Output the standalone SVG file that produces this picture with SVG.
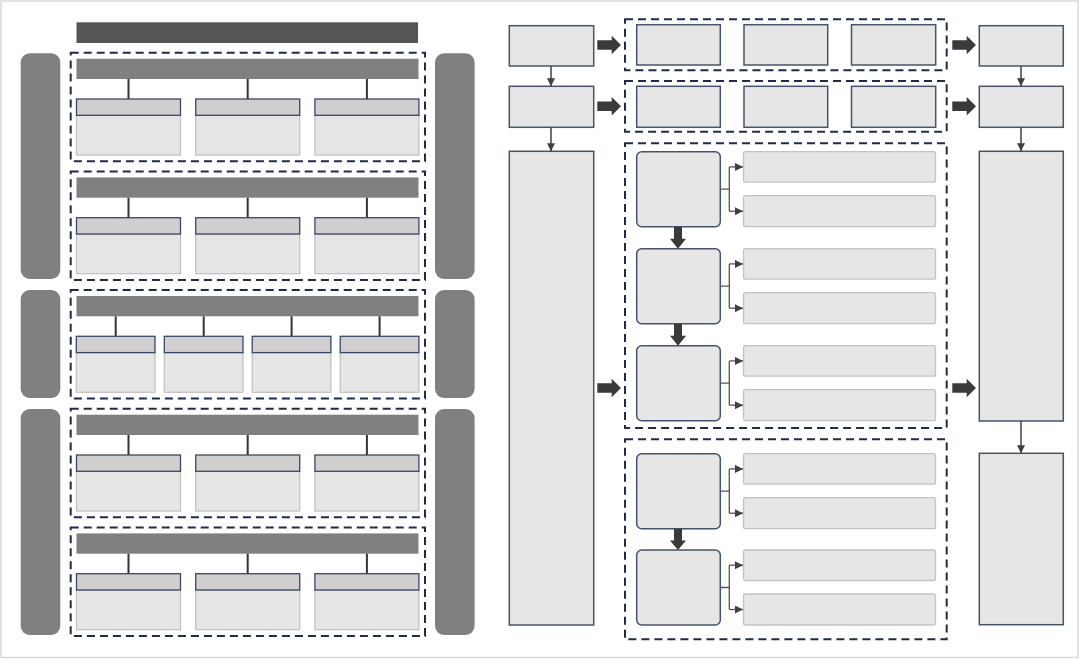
<svg xmlns="http://www.w3.org/2000/svg" width="1080" height="659" viewBox="0 0 1080 659">
<style>
.frame{fill:#ffffff;stroke:#d9d9d9;stroke-width:1.5}
.topbar{fill:#555555}
.hdr{fill:#808080}
.side{fill:#808080}
.dash{fill:none;stroke:#1f2b4d;stroke-width:2;stroke-dasharray:8,5}
.subhead{fill:#d0cece;stroke:#3b4766;stroke-width:1.3}
.body{fill:#e6e6e6;stroke:#bfbfbf;stroke-width:1.2}
.vline{stroke:#333333;stroke-width:2}
.box{fill:#e6e6e6;stroke:#44546a;stroke-width:1.5}
.rbox{fill:#e6e6e6;stroke:#44546a;stroke-width:1.5}
.long{fill:#e6e6e6;stroke:#c3c3c3;stroke-width:1.3}
.conn{fill:none;stroke:#404040;stroke-width:1.5}
.br{fill:none;stroke:#555555;stroke-width:1.3}
.block{fill:#3a3a3a}
</style>
<defs>
<marker id="ah" markerUnits="userSpaceOnUse" markerWidth="8" markerHeight="8" viewBox="0 0 8 8" refX="8" refY="4" orient="auto">
<path d="M0,0 L8,4 L0,8 Z" fill="#404040"/>
</marker>
</defs>
<rect class="frame" x="1" y="1" width="1077" height="656.5"/>

<!-- LEFT PANEL -->
<g id="top-bar"><rect class="topbar" x="76.5" y="22.3" width="341.5" height="20.7"/></g>
<g id="left-side-1"><rect class="side" x="20.7" y="53.3" width="39.6" height="225.7" rx="9"/></g>
<g id="left-side-2"><rect class="side" x="20.7" y="290" width="39.6" height="108" rx="9"/></g>
<g id="left-side-3"><rect class="side" x="20.7" y="409" width="39.6" height="226" rx="9"/></g>
<g id="right-side-1"><rect class="side" x="435" y="53.3" width="39.6" height="225.7" rx="9"/></g>
<g id="right-side-2"><rect class="side" x="435" y="290" width="39.6" height="108" rx="9"/></g>
<g id="right-side-3"><rect class="side" x="435" y="409" width="39.6" height="226" rx="9"/></g>

<g id="section-1" transform="translate(0,52.7)">
<rect class="dash" x="70.7" y="0" width="354.3" height="108.6"/>
<rect class="hdr" x="76.5" y="6" width="342" height="20.3"/>
<line class="vline" x1="128.5" y1="26.3" x2="128.5" y2="46.3"/>
<line class="vline" x1="247.7" y1="26.3" x2="247.7" y2="46.3"/>
<line class="vline" x1="366.9" y1="26.3" x2="366.9" y2="46.3"/>
<rect class="body" x="76.5" y="62.6" width="104" height="39.7"/>
<rect class="body" x="195.7" y="62.6" width="104" height="39.7"/>
<rect class="body" x="314.9" y="62.6" width="104" height="39.7"/>
<rect class="subhead" x="76.5" y="46.3" width="104" height="16.3"/>
<rect class="subhead" x="195.7" y="46.3" width="104" height="16.3"/>
<rect class="subhead" x="314.9" y="46.3" width="104" height="16.3"/>
</g>
<g id="section-2" transform="translate(0,171.4)">
<rect class="dash" x="70.7" y="0" width="354.3" height="108.6"/>
<rect class="hdr" x="76.5" y="6" width="342" height="20.3"/>
<line class="vline" x1="128.5" y1="26.3" x2="128.5" y2="46.3"/>
<line class="vline" x1="247.7" y1="26.3" x2="247.7" y2="46.3"/>
<line class="vline" x1="366.9" y1="26.3" x2="366.9" y2="46.3"/>
<rect class="body" x="76.5" y="62.6" width="104" height="39.7"/>
<rect class="body" x="195.7" y="62.6" width="104" height="39.7"/>
<rect class="body" x="314.9" y="62.6" width="104" height="39.7"/>
<rect class="subhead" x="76.5" y="46.3" width="104" height="16.3"/>
<rect class="subhead" x="195.7" y="46.3" width="104" height="16.3"/>
<rect class="subhead" x="314.9" y="46.3" width="104" height="16.3"/>
</g>
<g id="section-3" transform="translate(0,290)">
<rect class="dash" x="70.7" y="0" width="354.3" height="108.6"/>
<rect class="hdr" x="76.5" y="6" width="342" height="20.3"/>
<line class="vline" x1="115.7" y1="26.3" x2="115.7" y2="46.3"/>
<line class="vline" x1="203.7" y1="26.3" x2="203.7" y2="46.3"/>
<line class="vline" x1="291.6" y1="26.3" x2="291.6" y2="46.3"/>
<line class="vline" x1="379.6" y1="26.3" x2="379.6" y2="46.3"/>
<rect class="body" x="76.3" y="62.6" width="78.7" height="39.7"/>
<rect class="body" x="164.3" y="62.6" width="78.7" height="39.7"/>
<rect class="body" x="252.2" y="62.6" width="78.7" height="39.7"/>
<rect class="body" x="340.2" y="62.6" width="78.7" height="39.7"/>
<rect class="subhead" x="76.3" y="46.3" width="78.7" height="16.3"/>
<rect class="subhead" x="164.3" y="46.3" width="78.7" height="16.3"/>
<rect class="subhead" x="252.2" y="46.3" width="78.7" height="16.3"/>
<rect class="subhead" x="340.2" y="46.3" width="78.7" height="16.3"/>
</g>
<g id="section-4" transform="translate(0,408.7)">
<rect class="dash" x="70.7" y="0" width="354.3" height="108.6"/>
<rect class="hdr" x="76.5" y="6" width="342" height="20.3"/>
<line class="vline" x1="128.5" y1="26.3" x2="128.5" y2="46.3"/>
<line class="vline" x1="247.7" y1="26.3" x2="247.7" y2="46.3"/>
<line class="vline" x1="366.9" y1="26.3" x2="366.9" y2="46.3"/>
<rect class="body" x="76.5" y="62.6" width="104" height="39.7"/>
<rect class="body" x="195.7" y="62.6" width="104" height="39.7"/>
<rect class="body" x="314.9" y="62.6" width="104" height="39.7"/>
<rect class="subhead" x="76.5" y="46.3" width="104" height="16.3"/>
<rect class="subhead" x="195.7" y="46.3" width="104" height="16.3"/>
<rect class="subhead" x="314.9" y="46.3" width="104" height="16.3"/>
</g>
<g id="section-5" transform="translate(0,527.4)">
<rect class="dash" x="70.7" y="0" width="354.3" height="108.6"/>
<rect class="hdr" x="76.5" y="6" width="342" height="20.3"/>
<line class="vline" x1="128.5" y1="26.3" x2="128.5" y2="46.3"/>
<line class="vline" x1="247.7" y1="26.3" x2="247.7" y2="46.3"/>
<line class="vline" x1="366.9" y1="26.3" x2="366.9" y2="46.3"/>
<rect class="body" x="76.5" y="62.6" width="104" height="39.7"/>
<rect class="body" x="195.7" y="62.6" width="104" height="39.7"/>
<rect class="body" x="314.9" y="62.6" width="104" height="39.7"/>
<rect class="subhead" x="76.5" y="46.3" width="104" height="16.3"/>
<rect class="subhead" x="195.7" y="46.3" width="104" height="16.3"/>
<rect class="subhead" x="314.9" y="46.3" width="104" height="16.3"/>
</g>

<!-- RIGHT PANEL -->
<g id="group-row1"><rect class="dash" x="625" y="19.3" width="321.7" height="51"/></g>
<g id="group-row2"><rect class="dash" x="625" y="81" width="321.7" height="50.7"/></g>
<g id="group-process-1"><rect class="dash" x="625" y="143.3" width="321.7" height="284.7"/></g>
<g id="group-process-2"><rect class="dash" x="625" y="439.3" width="321.7" height="200"/></g>

<g id="in-a"><rect class="box" x="509.3" y="25.7" width="84.4" height="40.3"/></g>
<g id="in-b"><rect class="box" x="509.3" y="86.3" width="84.4" height="41"/></g>
<g id="in-c"><rect class="box" x="509.3" y="151.3" width="84.4" height="473.7"/></g>

<g id="r1-1"><rect class="box" x="636.7" y="24.7" width="83.6" height="40.3"/></g>
<g id="r1-2"><rect class="box" x="744" y="24.7" width="83.7" height="40.3"/></g>
<g id="r1-3"><rect class="box" x="851.5" y="24.7" width="84.2" height="40.3"/></g>
<g id="r2-1"><rect class="box" x="636.7" y="86.3" width="83.6" height="41"/></g>
<g id="r2-2"><rect class="box" x="744" y="86.3" width="83.7" height="41"/></g>
<g id="r2-3"><rect class="box" x="851.5" y="86.3" width="84.2" height="41"/></g>

<g id="out-a"><rect class="box" x="979.3" y="25.7" width="84" height="40.3"/></g>
<g id="out-b"><rect class="box" x="979.3" y="86.3" width="84" height="41"/></g>
<g id="out-c"><rect class="box" x="979.3" y="151.3" width="84" height="269.7"/></g>
<g id="out-d"><rect class="box" x="979.3" y="453.3" width="84" height="171.4"/></g>

<g id="step-1"><rect class="rbox" x="636.7" y="151.7" width="83.6" height="75" rx="5"/></g>
<g id="step-1-a"><rect class="long" x="743.5" y="151.7" width="192" height="30.5" rx="2"/></g>
<g id="step-1-b"><rect class="long" x="743.5" y="195.7" width="192" height="31" rx="2"/></g>
<g id="step-2"><rect class="rbox" x="636.7" y="248.7" width="83.6" height="75" rx="5"/></g>
<g id="step-2-a"><rect class="long" x="743.5" y="248.7" width="192" height="30.5" rx="2"/></g>
<g id="step-2-b"><rect class="long" x="743.5" y="292.7" width="192" height="31" rx="2"/></g>
<g id="step-3"><rect class="rbox" x="636.7" y="345.7" width="83.6" height="75" rx="5"/></g>
<g id="step-3-a"><rect class="long" x="743.5" y="345.7" width="192" height="30.5" rx="2"/></g>
<g id="step-3-b"><rect class="long" x="743.5" y="389.7" width="192" height="31" rx="2"/></g>
<g id="step-4"><rect class="rbox" x="636.7" y="453.7" width="83.6" height="75" rx="5"/></g>
<g id="step-4-a"><rect class="long" x="743.5" y="453.7" width="192" height="30.5" rx="2"/></g>
<g id="step-4-b"><rect class="long" x="743.5" y="497.7" width="192" height="31" rx="2"/></g>
<g id="step-5"><rect class="rbox" x="636.7" y="550" width="83.6" height="75" rx="5"/></g>
<g id="step-5-a"><rect class="long" x="743.5" y="550" width="192" height="30.5" rx="2"/></g>
<g id="step-5-b"><rect class="long" x="743.5" y="594" width="192" height="31" rx="2"/></g>

<g id="connectors">
<line class="conn" x1="551" y1="66" x2="551" y2="86.3" marker-end="url(#ah)"/>
<line class="conn" x1="551" y1="127.3" x2="551" y2="151.3" marker-end="url(#ah)"/>
<line class="conn" x1="1021" y1="66" x2="1021" y2="86.3" marker-end="url(#ah)"/>
<line class="conn" x1="1021" y1="127.3" x2="1021" y2="151.3" marker-end="url(#ah)"/>
<line class="conn" x1="1021" y1="421" x2="1021" y2="453.3" marker-end="url(#ah)"/>

<path class="br" d="M720.3,189.2 H729.3 M729.3,166.9 V211.2"/>
<path class="br" d="M729.3,166.9 H743" marker-end="url(#ah)"/>
<path class="br" d="M729.3,211.2 H743" marker-end="url(#ah)"/>
<path class="br" d="M720.3,286.2 H729.3 M729.3,263.9 V308.2"/>
<path class="br" d="M729.3,263.9 H743" marker-end="url(#ah)"/>
<path class="br" d="M729.3,308.2 H743" marker-end="url(#ah)"/>
<path class="br" d="M720.3,383.2 H729.3 M729.3,360.9 V405.2"/>
<path class="br" d="M729.3,360.9 H743" marker-end="url(#ah)"/>
<path class="br" d="M729.3,405.2 H743" marker-end="url(#ah)"/>
<path class="br" d="M720.3,491.2 H729.3 M729.3,468.9 V513.2"/>
<path class="br" d="M729.3,468.9 H743" marker-end="url(#ah)"/>
<path class="br" d="M729.3,513.2 H743" marker-end="url(#ah)"/>
<path class="br" d="M720.3,587.5 H729.3 M729.3,565.2 V609.5"/>
<path class="br" d="M729.3,565.2 H743" marker-end="url(#ah)"/>
<path class="br" d="M729.3,609.5 H743" marker-end="url(#ah)"/>

<polygon class="block" points="674,226.7 682,226.7 682,238.7 686,238.7 678,248.7 670,238.7 674,238.7"/>
<polygon class="block" points="674,323.7 682,323.7 682,335.7 686,335.7 678,345.7 670,335.7 674,335.7"/>
<polygon class="block" points="674,528.7 682,528.7 682,540.5 686,540.5 678,550 670,540.5 674,540.5"/>

<polygon class="block" points="597.3,40.2 611.7,40.2 611.7,35.8 621,45 611.7,54.2 611.7,49.8 597.3,49.8"/>
<polygon class="block" points="597.3,101.5 611.7,101.5 611.7,97.1 621,106.3 611.7,115.5 611.7,111.1 597.3,111.1"/>
<polygon class="block" points="597.3,383.2 611.7,383.2 611.7,378.8 621,388 611.7,397.2 611.7,392.8 597.3,392.8"/>
<polygon class="block" points="952.3,40.2 966.7,40.2 966.7,35.8 976,45 966.7,54.2 966.7,49.8 952.3,49.8"/>
<polygon class="block" points="952.3,101.5 966.7,101.5 966.7,97.1 976,106.3 966.7,115.5 966.7,111.1 952.3,111.1"/>
<polygon class="block" points="952.3,383.2 966.7,383.2 966.7,378.8 976,388 966.7,397.2 966.7,392.8 952.3,392.8"/>
</g>
</svg>
